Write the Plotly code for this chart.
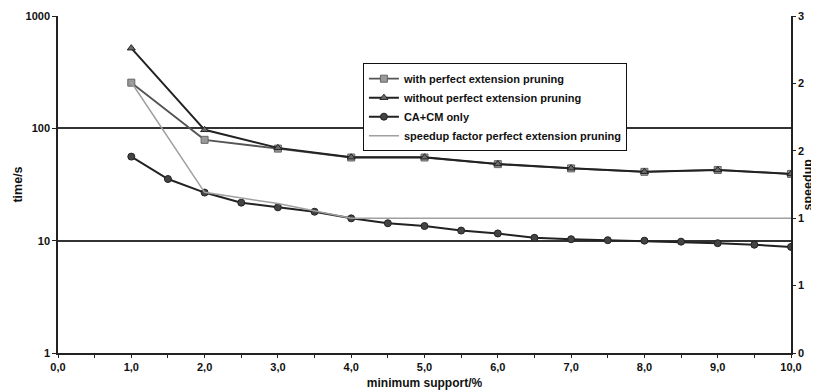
import plotly.graph_objects as go

# ---- data ----
x_int = [1, 2, 3, 4, 5, 6, 7, 8, 9, 10]
with_pruning = [255, 79, 66, 55, 55, 48, 44, 41, 42.6, 39.3]
without_pruning = [517, 97, 67, 55.3, 55.3, 48.2, 44.2, 41.1, 42.6, 39.3]

x_half = [1.0, 1.5, 2.0, 2.5, 3.0, 3.5, 4.0, 4.5, 5.0, 5.5, 6.0, 6.5, 7.0,
          7.5, 8.0, 8.5, 9.0, 9.5, 10.0]
ca_cm_only = [56, 35.4, 26.8, 21.8, 19.8, 18.1, 15.8, 14.3, 13.5, 12.3, 11.6,
              10.6, 10.3, 10.1, 10.0, 9.8, 9.5, 9.2, 8.8]

speedup = [2.41, 1.43, 1.33, 1.20, 1.20, 1.20, 1.20, 1.20, 1.20, 1.20]

x_tick_vals = [0, 1, 2, 3, 4, 5, 6, 7, 8, 9, 10]
x_tick_text = ["0,0", "1,0", "2,0", "3,0", "4,0", "5,0", "6,0", "7,0", "8,0", "9,0", "10,0"]
y_tick_vals = [1, 10, 100, 1000]
y_tick_text = ["1", "10", "100", "1000"]
y2_tick_vals = [0, 0.6, 1.2, 1.8, 2.4, 3.0]
y2_tick_text = ["0", "1", "1", "2", "2", "3"]
y2_title = "speedup"

FONT = "Liberation Sans, Arial, sans-serif"
DARK = "#222222"

fig = go.Figure()

fig.add_trace(go.Scatter(
    x=x_int, y=with_pruning, name="with perfect extension pruning",
    mode="lines+markers",
    line=dict(color="#555555", width=1.8),
    marker=dict(symbol="square", size=7, color="#9a9a9a",
                line=dict(color="#666666", width=1)),
))
fig.add_trace(go.Scatter(
    x=x_int, y=without_pruning, name="without perfect extension pruning",
    mode="lines+markers",
    line=dict(color=DARK, width=2),
    marker=dict(symbol="triangle-up", size=7, color="#6a6a6a",
                line=dict(color=DARK, width=1)),
))
fig.add_trace(go.Scatter(
    x=x_half, y=ca_cm_only, name="CA+CM only",
    mode="lines+markers",
    line=dict(color=DARK, width=2),
    marker=dict(symbol="circle", size=7, color="#444444",
                line=dict(color=DARK, width=1)),
))
fig.add_trace(go.Scatter(
    x=x_int, y=speedup, name="speedup factor perfect extension pruning",
    mode="lines", yaxis="y2",
    line=dict(color="#a0a0a0", width=1.5),
))

# the page body adds an 8px offset, so the figure is sized to fit the window
fig.update_layout(
    width=811, height=383,
    margin=dict(l=50, r=28, t=8, b=38),
    paper_bgcolor="white", plot_bgcolor="white",
    font=dict(family=FONT, size=11, color="#111111", weight="bold"),
    showlegend=True,
    legend=dict(
        x=0.416, y=0.86, xanchor="left", yanchor="top",
        bgcolor="white", bordercolor="#111111", borderwidth=1,
        font=dict(family=FONT, size=11, color="#111111", weight="bold"),
        tracegroupgap=0, itemwidth=30,
    ),
    xaxis=dict(
        range=[0, 10], tickvals=x_tick_vals, ticktext=x_tick_text,
        showgrid=False, zeroline=False, automargin=False,
        showline=True, linecolor=DARK, linewidth=1.5,
        ticks="outside", ticklen=3, tickcolor=DARK,
        minor=dict(dtick=0.5, ticks="outside", ticklen=3, tickcolor=DARK),
        tickfont=dict(family=FONT, size=11, weight="bold"),
        title=dict(text="minimum support/%", standoff=7,
                   font=dict(family=FONT, size=12, weight="bold")),
    ),
    yaxis=dict(
        type="log", range=[0, 3], tickvals=y_tick_vals, ticktext=y_tick_text,
        showgrid=True, gridcolor="#333333", gridwidth=1.5,
        zeroline=False, showline=True, linecolor=DARK, linewidth=1.5,
        automargin=False,
        ticks="outside", ticklen=4, tickcolor=DARK,
        tickfont=dict(family=FONT, size=11, weight="bold"),
        title=dict(text="time/s", standoff=0,
                   font=dict(family=FONT, size=12.5, weight="bold")),
    ),
    yaxis2=dict(
        overlaying="y", side="right", range=[0, 3],
        tickvals=y2_tick_vals, ticktext=y2_tick_text,
        showgrid=False, zeroline=False, automargin=False,
        showline=True, linecolor=DARK, linewidth=1.5,
        ticks="outside", ticklen=3, tickcolor=DARK,
        tickfont=dict(family=FONT, size=11, weight="bold"),
    ),
    annotations=[dict(
        text=y2_title, xref="paper", yref="paper", x=1, y=0.5,
        xanchor="center", yanchor="middle", xshift=16, textangle=-90,
        showarrow=False, font=dict(family=FONT, size=12.5, weight="bold",
                                   color="#111111"),
    )],
)

fig.write_html("out.html")
